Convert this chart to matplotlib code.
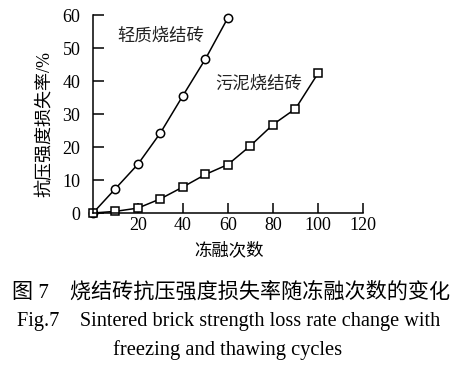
import matplotlib
matplotlib.use("Agg")
import matplotlib.pyplot as plt

cycles_light = [0, 10, 20, 30, 40, 50, 60]
loss_light = [0, 7.4, 14.8, 24.3, 35.6, 46.7, 59.2]
cycles_sludge = [0, 10, 20, 30, 40, 50, 60, 70, 80, 90, 100]
loss_sludge = [0, 0.5, 1.5, 4.3, 7.9, 11.7, 14.7, 20.4, 26.8, 31.6, 42.3]
xticks = [20, 40, 60, 80, 100, 120]
yticks = [0, 10, 20, 30, 40, 50, 60]

FAM = ['Liberation Serif', 'Noto Sans CJK SC']
plt.rcParams['font.family'] = FAM

fig = plt.figure(figsize=(4.54, 3.81), dpi=100)
ax = fig.add_axes([0.2048, 0.4409, 0.5947, 0.5197])

ax.plot(cycles_light, loss_light, color='black', lw=1.1, marker='o', ms=6,
        mfc='white', mec='black', mew=1.1, clip_on=False)
ax.plot(cycles_sludge, loss_sludge, color='black', lw=1.1, marker='s', ms=5.5,
        mfc='white', mec='black', mew=1.1, clip_on=False)

ax.set_xlim(0, 120)
ax.set_ylim(0, 60)
ax.set_xticks(xticks)
ax.set_yticks(yticks)
ax.tick_params(axis='x', direction='in', length=7, width=1.1, labelsize=13,
               colors='black', pad=3)
ax.tick_params(axis='y', direction='in', length=8, width=1.1, labelsize=13,
               colors='black', pad=9)
for s in ['top', 'right']:
    ax.spines[s].set_visible(False)
for s in ['left', 'bottom']:
    ax.spines[s].set_linewidth(1.1)

ax.text(10.7, 53.6, '轻质烧结砖', fontsize=12.5, family=FAM, color='#222222', va='center')
ax.text(54.2, 38.8, '污泥烧结砖', fontsize=12.5, family=FAM, color='#222222', va='center')

fig.text(0.504, 0.341, '冻融次数', fontsize=12.5, ha='center', va='center', family=FAM)
fig.text(0.099, 0.675, '抗压强度损失率/%', fontsize=13, ha='center', va='center',
         rotation=90, family=FAM)

fig.text(0.508, 0.231, '图 7    烧结砖抗压强度损失率随冻融次数的变化', fontsize=15.2,
         ha='center', va='center', family=FAM)
fig.text(0.503, 0.155, 'Fig.7    Sintered brick strength loss rate change with', fontsize=14.6,
         ha='center', va='center', family=FAM)
fig.text(0.502, 0.081, 'freezing and thawing cycles', fontsize=14.8,
         ha='center', va='center', family=FAM)

fig.savefig('out.png', dpi=100)
